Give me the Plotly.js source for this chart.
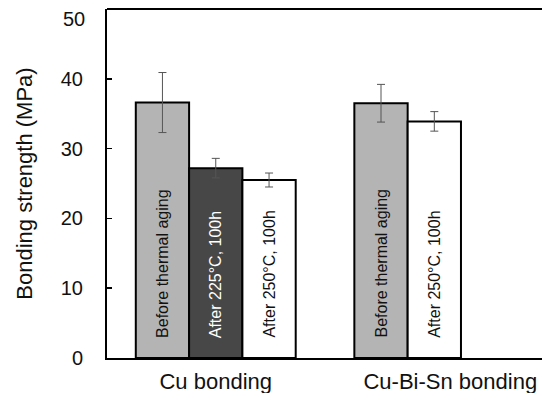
<!DOCTYPE html>
<html>
<head>
<meta charset="utf-8">
<script src="https://cdn.plot.ly/plotly-3.0.1.min.js"></script>
<style>html,body{margin:0;padding:0;background:#fff;overflow:hidden}</style>
</head>
<body>
<div id="chart" style="width:542px;height:393px"></div>
<script>
// ---- data ----
const groups = ['Cu bonding', 'Cu-Bi-Sn bonding'];
const cuConditions = ['Before thermal aging', 'After 225°C, 100h', 'After 250°C, 100h'];
const cuStrength = [36.6, 27.2, 25.5];
const cuError = [4.3, 1.4, 1.0];
const cuBiSnConditions = ['Before thermal aging', 'After 250°C, 100h'];
const cuBiSnStrength = [36.5, 33.9];
const cuBiSnError = [2.7, 1.4];
const yTicks = [0, 10, 20, 30, 40, 50];

// ---- styles ----
const FONT = 'Arial, "Liberation Sans", Helvetica, sans-serif';
const fillFor = {
  'Before thermal aging': '#b4b4b4',
  'After 225°C, 100h': '#474747',
  'After 250°C, 100h': '#ffffff'
};
const textFor = {
  'Before thermal aging': '#111111',
  'After 225°C, 100h': '#ffffff',
  'After 250°C, 100h': '#111111'
};
const groupStart = [0, 4.1];
const groupLabelPos = [1, 5.4];

function barTrace(conds, vals, errs, start) {
  return {
    type: 'bar',
    x: conds.map((_, i) => start + i),
    y: vals,
    width: 1,
    marker: {color: conds.map(c => fillFor[c]), line: {color: '#000', width: 2}},
    error_y: {type: 'data', array: errs, visible: true, color: '#555', thickness: 1, width: 4},
    hoverinfo: 'skip',
    showlegend: false
  };
}

const traces = [
  barTrace(cuConditions, cuStrength, cuError, groupStart[0]),
  barTrace(cuBiSnConditions, cuBiSnStrength, cuBiSnError, groupStart[1])
];

const annotations = [];
[[cuConditions, groupStart[0]], [cuBiSnConditions, groupStart[1]]].forEach(([conds, start]) => {
  conds.forEach((c, i) => {
    annotations.push({
      x: start + i, y: 0, xref: 'x', yref: 'y',
      text: c, showarrow: false, textangle: -90,
      xanchor: 'center', yanchor: 'bottom', yshift: 18,
      font: {family: FONT, size: 16, color: textFor[c]}
    });
  });
});
// top tick label sits a little lower than its tick in the reference
annotations.push({
  x: 0, xref: 'paper', y: yTicks[yTicks.length - 1], yref: 'y',
  text: String(yTicks[yTicks.length - 1]), showarrow: false,
  xanchor: 'right', yanchor: 'middle', xshift: -20, yshift: -10,
  font: {family: FONT, size: 20, color: '#111'}
});

const layout = {
  width: 542, height: 393,
  margin: {l: 107, r: 0, t: 9, b: 35},
  paper_bgcolor: '#fff', plot_bgcolor: '#fff',
  font: {family: FONT, color: '#111'},
  bargap: 0,
  xaxis: {
    range: [-1.04, 7.12],
    tickvals: groupLabelPos, ticktext: groups,
    ticks: '', showgrid: false, zeroline: false,
    showline: true, linecolor: '#000', linewidth: 2,
    tickfont: {family: FONT, size: 22, color: '#111'},
    ticklabelstandoff: 3,
    fixedrange: true
  },
  yaxis: {
    range: [0, 50],
    tickvals: yTicks.slice(0, -1),
    ticks: 'inside', ticklen: 5, tickwidth: 1.5, tickcolor: '#000',
    showgrid: false, zeroline: false,
    showline: true, linecolor: '#000', linewidth: 2,
    tickfont: {family: FONT, size: 20, color: '#111'},
    ticklabelstandoff: 18,
    title: {text: 'Bonding strength (MPa)', font: {family: FONT, size: 22, color: '#111'}, standoff: 22},
    fixedrange: true
  },
  shapes: [{
    type: 'line', xref: 'paper', yref: 'paper', x0: 0, x1: 1, y0: 1, y1: 1,
    line: {color: '#000', width: 2}
  }],
  annotations: annotations
};

Plotly.newPlot('chart', traces, layout, {displayModeBar: false, staticPlot: true});
</script>
</body>
</html>
